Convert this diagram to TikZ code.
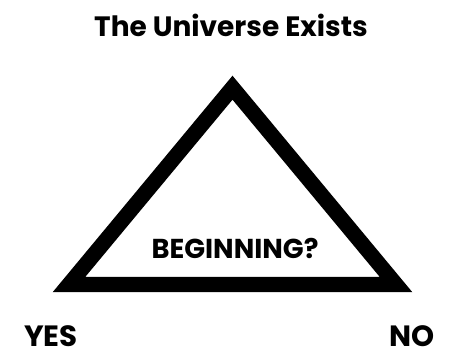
\documentclass[tikz,border=0pt]{standalone}
\usepackage{fontspec}
\setmainfont{Poppins}
\usepackage{tikz}
\usetikzlibrary{positioning}

\begin{document}
\begin{tikzpicture}[
  x=0.75pt, y=-0.75pt,
  title/.style={font=\bfseries\fontsize{21}{24}\selectfont, inner sep=0pt, anchor=base},
  answer/.style={font=\bfseries\fontsize{22}{26}\selectfont, inner sep=0pt, anchor=base, text depth=0pt},
  question/.style={font=\bfseries\fontsize{20.5}{24}\selectfont, inner sep=0pt, anchor=base},
  frame/.style={line width=11.5pt, line join=miter, miter limit=10},
]
\useasboundingbox (0,0) rectangle (453,353);

\node[title] (universe) at (231,37) {The Universe Exists};

% the triangle
\draw[frame] (232.5,87.7) -- (396,284.5) -- (69,284.5) -- cycle;

\node[question] (beginning) at (235,258) {BEGINNING?};
\node[answer] (yes) at (51,346) {YES};
\node[answer] (no) at (412,346) {NO};
\end{tikzpicture}
\end{document}
